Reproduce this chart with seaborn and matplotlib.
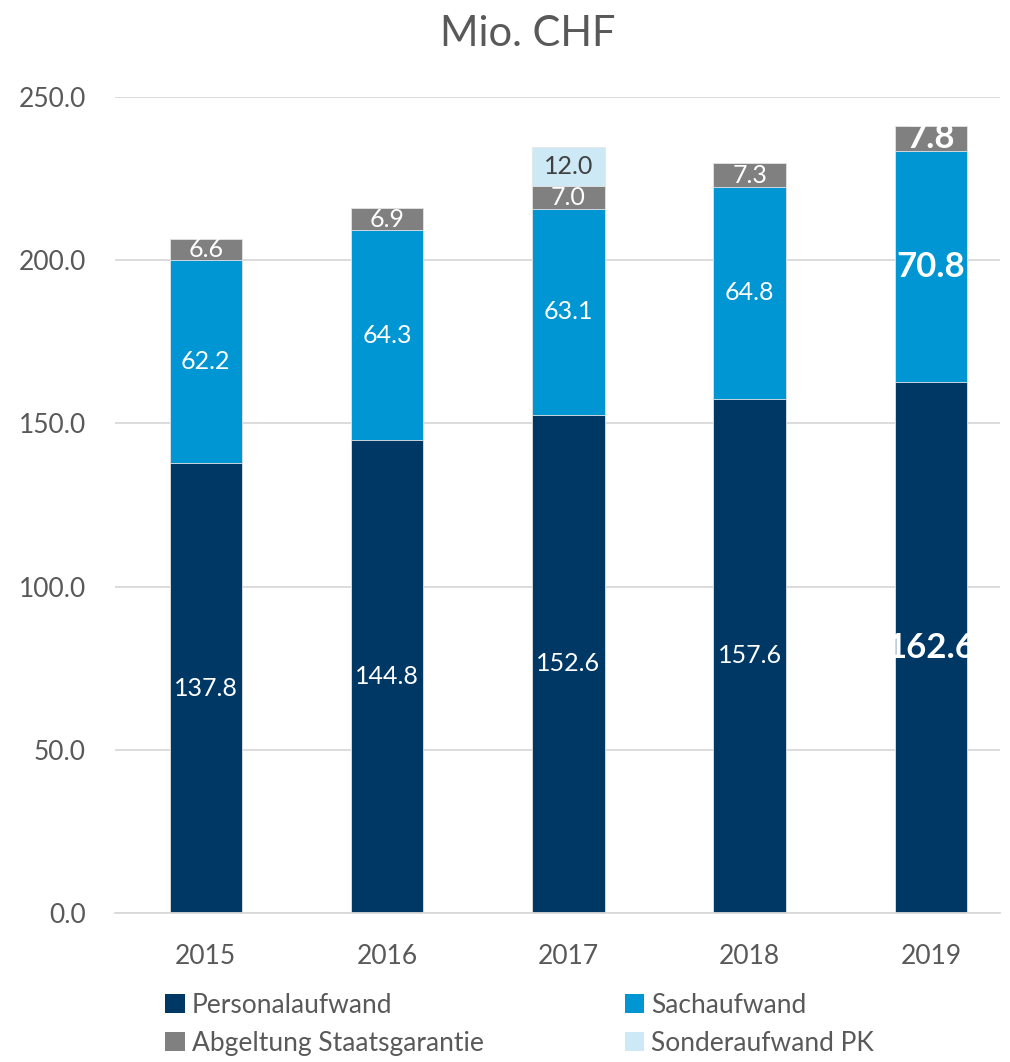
import pandas as pd
import seaborn as sns
import matplotlib.pyplot as plt
from matplotlib.patches import Patch, Rectangle

# Values (Mio. CHF)
years = ['2015', '2016', '2017', '2018', '2019']
personal = [137.8, 144.8, 152.6, 157.6, 162.6]
sach = [62.2, 64.3, 63.1, 64.8, 70.8]
staatsgarantie = [6.6, 6.9, 7.0, 7.3, 7.8]
sonder = [0.0, 0.0, 12.0, 0.0, 0.0]

series = ['Personalaufwand', 'Sachaufwand', 'Abgeltung Staatsgarantie', 'Sonderaufwand PK']
colors = ['#003865', '#0095D3', '#808080', '#CDE9F5']
text_colors = ['white', 'white', 'white', '#404040']

df = pd.DataFrame({'Jahr': years, series[0]: personal, series[1]: sach,
                   series[2]: staatsgarantie, series[3]: sonder})

sns.set_style('white')
plt.rcParams['font.family'] = ['Lato', 'DejaVu Sans']

fig = plt.figure(figsize=(10.1, 10.62), dpi=100)
ax = fig.add_axes([0.114, 0.1403, 0.876, 0.7684])

bar_w = 0.4
# stacked bars: draw cumulative totals from the top down
cum = df[series].cumsum(axis=1)
for i in range(len(series) - 1, -1, -1):
    sns.barplot(x=df['Jahr'], y=cum[series[i]], color=colors[i], width=bar_w,
                saturation=1, ax=ax, zorder=2, edgecolor='#E6E6E6', linewidth=0.6)

# segment labels (clipped to the bar column like the original)
for j, yr in enumerate(years):
    bold = yr == '2019'
    clip = Rectangle((j - bar_w / 2, 0), bar_w, 300, transform=ax.transData)
    base = 0
    for i, s in enumerate(series):
        v = df[s][j]
        if v > 0:
            t = ax.text(j, base + v / 2, f'{v:.1f}', ha='center', va='center',
                        color=text_colors[i], fontsize=25 if bold else 18,
                        fontweight='bold' if bold else 'normal', zorder=3)
            t.set_clip_path(clip)
        base += v

ax.set_ylim(0, 250)
ax.set_xlim(-0.5, 4.38)
ax.set_yticks([0, 50, 100, 150, 200, 250])
ax.set_yticklabels([f'{t:.1f}' for t in [0, 50, 100, 150, 200, 250]])
ax.yaxis.grid(True, color='#D9D9D9', linewidth=1.3, zorder=0)
ax.set_axisbelow(True)
ax.tick_params(axis='both', labelsize=19, colors='#595959', length=0)
ax.tick_params(axis='x', pad=22)
ax.tick_params(axis='y', pad=21)
ax.set_xlabel('')
ax.set_ylabel('')
for sp in ['top', 'right', 'left']:
    ax.spines[sp].set_visible(False)
ax.spines['bottom'].set_color('#D9D9D9')
ax.spines['bottom'].set_linewidth(1.3)

fig.text(0.523, 0.968, 'Mio. CHF', ha='center', va='center', fontsize=30, color='#595959')

# legend laid out row-wise: Personal | Sach / Abgeltung | Sonder
order = [0, 2, 1, 3]
handles = [Patch(facecolor=colors[k], edgecolor='none') for k in order]
fig.legend(handles, [series[k] for k in order], loc='upper left',
           bbox_to_anchor=(0.14, 0.0876), ncol=2, frameon=False, fontsize=19,
           labelcolor='#595959', handlelength=0.75, handleheight=0.75,
           handletextpad=0.25, columnspacing=5.35, labelspacing=0.5)

fig.savefig('out.png', dpi=100)
